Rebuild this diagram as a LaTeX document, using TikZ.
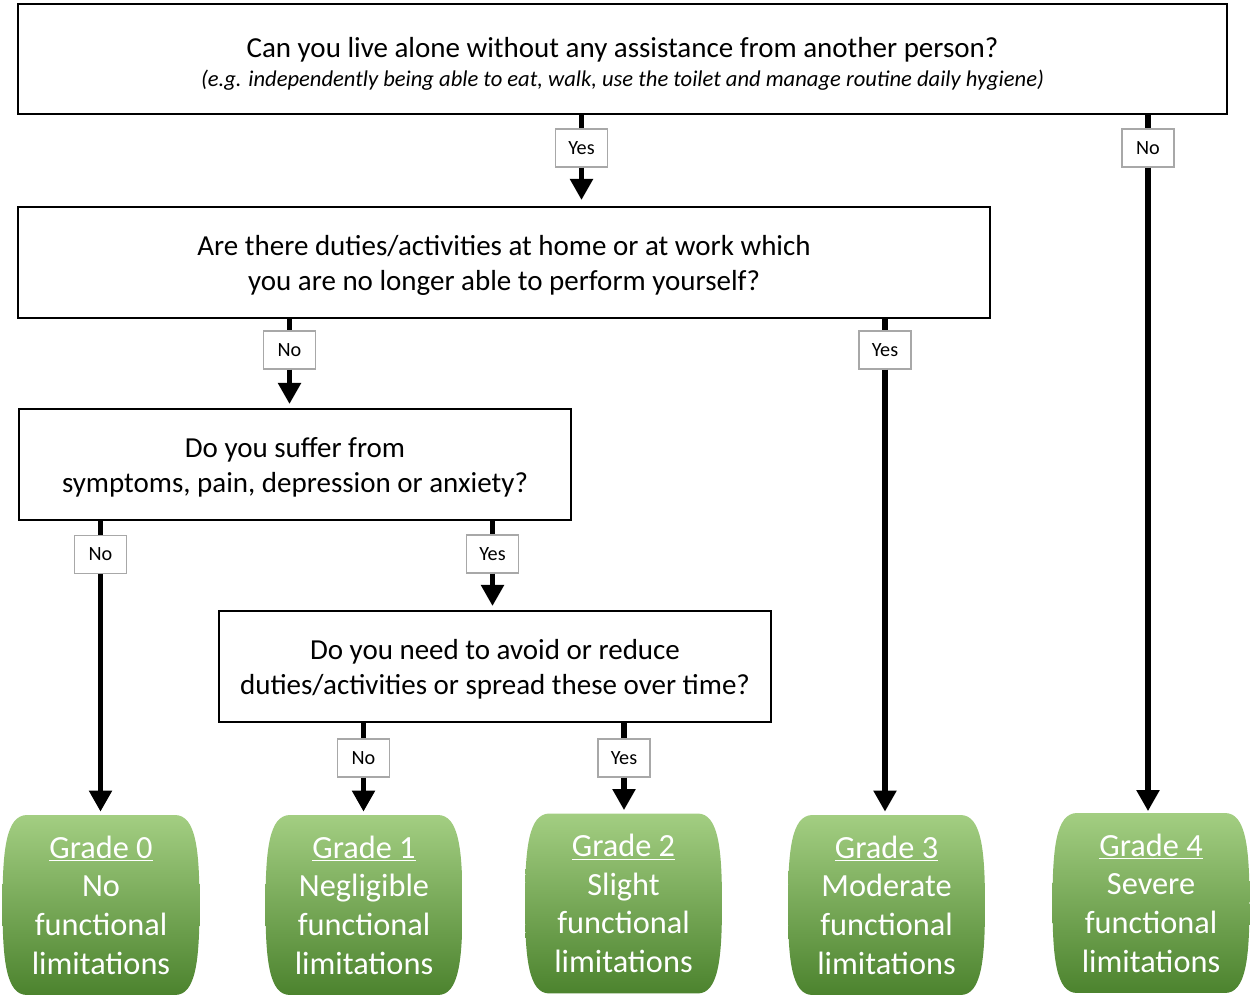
\documentclass[tikz,border=0pt]{standalone}
\usepackage{fontspec}
\setmainfont{Carlito}
\usetikzlibrary{arrows.meta,calc}
\definecolor{gtop}{RGB}{163,206,130}
\definecolor{gmid}{RGB}{117,176,76}
\definecolor{gbot}{RGB}{76,131,46}
\definecolor{lblgray}{RGB}{168,168,168}
\begin{document}
\begin{tikzpicture}[x=0.02cm,y=-0.02cm,
  qbox/.style={draw,line width=1.1pt,align=center,inner sep=0pt,
    font=\fontsize{16.5}{19.8}\selectfont},
  lbl/.style={draw=lblgray,fill=white,line width=0.7pt,inner sep=0pt,
    minimum width=1.04cm,minimum height=0.76cm,font=\fontsize{11.5}{13}\selectfont},
  conn/.style={line width=3.4pt},
  arr/.style={conn,-{Triangle[width=12.5pt,length=12pt]}},
  grade/.style={minimum width=3.96cm,minimum height=3.6cm,inner sep=0pt,align=center,
    text=white,font=\fontsize{18.4}{22}\selectfont,
    path picture={
      \shade[top color=gtop,middle color=gmid,bottom color=gbot]
        ($(path picture bounding box.north west)+(0.5cm,0)$) --
        ($(path picture bounding box.north east)+(-0.5cm,0)$)
        .. controls ($(path picture bounding box.north east)+(-0.08cm,0)$)
        and ($(path picture bounding box.north east)+(-0.01cm,-0.7cm)$) ..
        ($(path picture bounding box.east)+(-0.01cm,0)$)
        .. controls ($(path picture bounding box.south east)+(-0.01cm,0.7cm)$)
        and ($(path picture bounding box.south east)+(-0.08cm,0)$) ..
        ($(path picture bounding box.south east)+(-0.5cm,0)$) --
        ($(path picture bounding box.south west)+(0.5cm,0)$)
        .. controls ($(path picture bounding box.south west)+(0.08cm,0)$)
        and ($(path picture bounding box.south west)+(0.01cm,0.7cm)$) ..
        ($(path picture bounding box.west)+(0.01cm,0)$)
        .. controls ($(path picture bounding box.north west)+(0.01cm,-0.7cm)$)
        and ($(path picture bounding box.north west)+(0.08cm,0)$) ..
        cycle;
    }}]
\useasboundingbox (0,0) rectangle (1250,996);

% question boxes
\node[qbox,minimum width=24.18cm,minimum height=2.2cm] (q1) at (622.5,59)
  {\rule{0pt}{17pt}Can you live alone without any assistance from another person?\\[-3.5pt]
   {\fontsize{12.85}{14}\selectfont\itshape (e.g. independently being able to eat, walk, use the toilet and manage routine daily hygiene)}};
\node[qbox,minimum width=19.44cm,minimum height=2.22cm] (q2) at (504,262.5)
  {\rule{0pt}{15pt}Are there duties/activities at home or at work which\\you are no longer able to perform yourself?};
\node[qbox,minimum width=11.04cm,minimum height=2.22cm] (q3) at (295,464.5)
  {\rule{0pt}{15pt}Do you suffer from\\symptoms, pain, depression or anxiety?};
\node[qbox,minimum width=11.04cm,minimum height=2.22cm] (q4) at (495,666.5)
  {\rule{0pt}{15pt}Do you need to avoid or reduce\\duties/activities or spread these over time?};

% grade boxes
\node[grade] (g0) at (101,905) {\underline{Grade 0}\\No\\functional\\limitations};
\node[grade] (g1) at (364,905) {\underline{Grade 1}\\Negligible\\functional\\limitations};
\node[grade] (g2) at (623.5,903.5) {\underline{Grade 2}\\Slight\\functional\\limitations};
\node[grade] (g3) at (886.5,905) {\underline{Grade 3}\\Moderate\\functional\\limitations};
\node[grade] (g4) at (1151,903) {\underline{Grade 4}\\Severe\\functional\\limitations};

% labels
\node[lbl] (y1) at (581.5,148) {Yes};
\node[lbl] (n1) at (1148,148) {No};
\node[lbl] (n2) at (289.5,350) {No};
\node[lbl] (y2) at (885,350) {Yes};
\node[lbl] (n3) at (100.5,554.5) {No};
\node[lbl] (y3) at (492.5,554) {Yes};
\node[lbl] (n4) at (363.5,758) {No};
\node[lbl] (y4) at (624,758) {Yes};

% connectors
\draw[conn] (q1.south -| y1) -- (y1.north);
\draw[arr,shorten >=0.12cm] (y1.south) -- (q2.north -| y1);
\draw[conn] (q1.south -| n1) -- (n1.north);
\draw[arr,shorten >=0.03cm] (n1.south) -- (g4.north -| n1);
\draw[conn] (q2.south -| n2) -- (n2.north);
\draw[arr,shorten >=0.08cm] (n2.south) -- (q3.north -| n2);
\draw[conn] (q2.south -| y2) -- (y2.north);
\draw[arr,shorten >=0.06cm] (y2.south) -- (g3.north -| y2);
\draw[conn] (q3.south -| n3) -- (n3.north);
\draw[arr,shorten >=0.06cm] (n3.south) -- (g0.north -| n3);
\draw[conn] (q3.south -| y3) -- (y3.north);
\draw[arr,shorten >=0.08cm] (y3.south) -- (q4.north -| y3);
\draw[conn] (q4.south -| n4) -- (n4.north);
\draw[arr,shorten >=0.06cm] (n4.south) -- (g1.north -| n4);
\draw[conn] (q4.south -| y4) -- (y4.north);
\draw[arr,shorten >=0.06cm] (y4.south) -- (g2.north -| y4);
\end{tikzpicture}
\end{document}
